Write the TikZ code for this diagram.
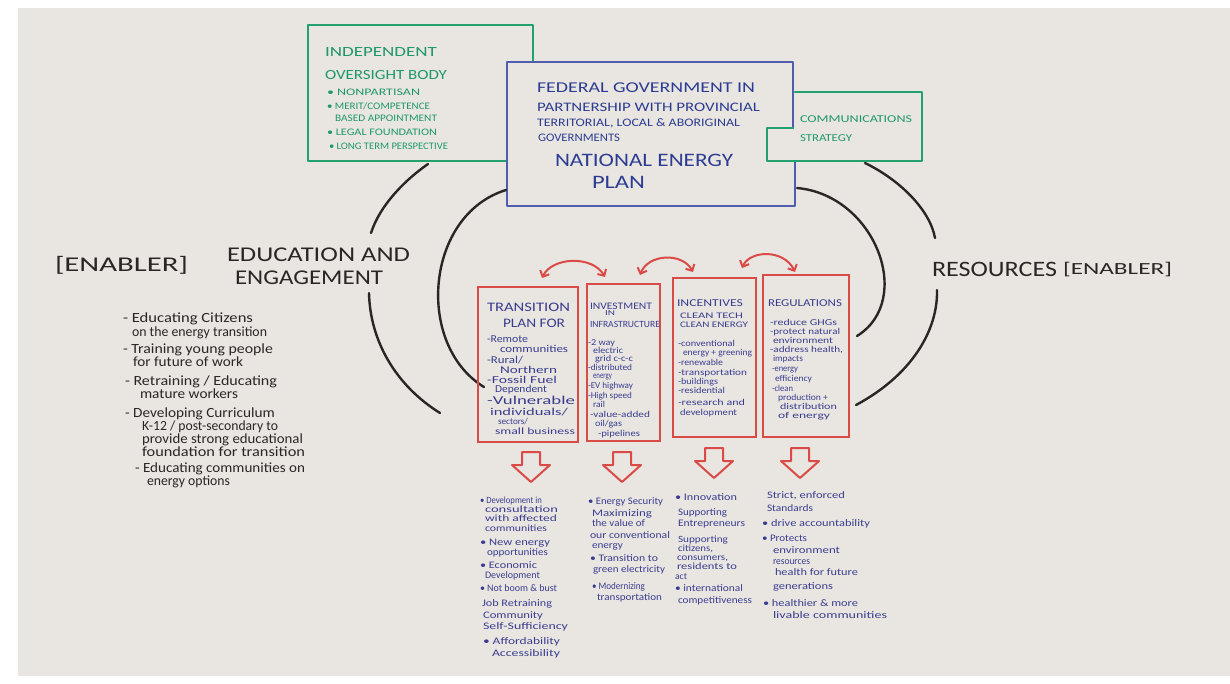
\documentclass[tikz,border=0pt]{standalone}
\usepackage{fontspec}
\setmainfont{Carlito}
\usepackage{graphicx}
\usetikzlibrary{arrows.meta}

\definecolor{board}{HTML}{E9E6E2}
\definecolor{mkgreen}{HTML}{22A06E}
\definecolor{mkgreentext}{HTML}{1E9868}
\definecolor{mkblue}{HTML}{4E5DAE}
\definecolor{mkbluetext}{HTML}{2C3C92}
\definecolor{mkred}{HTML}{DA4B47}
\definecolor{mknavy}{HTML}{3A3D8E}
\definecolor{mkblack}{HTML}{2A2626}

% squeeze or stretch one handwritten line to a given width, height kept
\newsavebox\hwbox
\newlength\hwlen
\newcommand{\hwfit}[2]{%
  \sbox\hwbox{#2}\setlength\hwlen{\wd\hwbox}%
  \pgfmathsetmacro\hwscale{#1/\hwlen}%
  \scalebox{\hwscale}[1]{\usebox\hwbox}}
% a block of lines: style, name prefix, list of x/baseline/width/size/text
\newcommand{\handlines}[3]{%
  \foreach \Lx/\Ly/\Lw/\Ls/\Lt [count=\Ln] in {#3}{%
    \node[#1] (#2\Ln) at (\Lx,\Ly) {\fontsize{\Ls}{\Ls}\selectfont\hwfit{\Lw}{\Lt}};}}

\begin{document}
\begin{tikzpicture}[x=1pt,y=-1pt,
  ln/.style={anchor=base west, inner sep=0pt, outer sep=0pt},
  gtxt/.style={ln, text=mkgreentext},
  btxt/.style={ln, text=mkbluetext},
  ktxt/.style={ln, text=mkblack},
  ntxt/.style={ln, text=mknavy},
  marker/.style={line width=2.2pt, line cap=round, line join=round},
  redbox/.style={draw=mkred, line width=2.3pt, inner sep=0pt, outer sep=0pt},
  swap/.style={marker, draw=mkred, line width=2pt,
    {Straight Barb[length=5pt,width=10pt]}-{Straight Barb[length=5pt,width=10pt]}},
  arc/.style={marker, draw=mkblack, line width=2.4pt},
  downarr/.pic={\draw[marker, draw=mkred, line width=2pt]
    (-9,0) -- (9,0) -- (9,13) -- (19,13) -- (0,30) -- (-19,13) -- (-9,13) -- cycle;}
]
\useasboundingbox (0,0) rectangle (1230,684);
\fill[white] (0,0) rectangle (1230,684);
\fill[board] (18,8) rectangle (1230,676);

% ---------- top: oversight body, national plan, communications ----------
\draw[marker, draw=mkgreen, line width=2.3pt]
  (533,62) -- (533,25) -- (308,25) -- (308,161) -- (507,161);
\draw[marker, draw=mkblue, line width=2.3pt]
  (793,128) -- (793,62) -- (507,62) -- (507,206) -- (795,206) -- (795,161);
\draw[marker, draw=mkgreen, line width=2.3pt]
  (795,92) -- (922,92) -- (922,161) -- (767,161) -- (767,128) -- (793,128);

\handlines{gtxt}{gt}{325/57/112/14/{INDEPENDENT}, 325/80/122/14/{OVERSIGHT BODY}}
\handlines{gtxt}{gb}{327/96/93/10/{• NONPARTISAN},
  327/110/103/10/{• MERIT/COMPETENCE},
  335/122/102/10/{BASED APPOINTMENT},
  327/136/110/10/{• LEGAL FOUNDATION},
  329/150/119/10/{• LONG TERM PERSPECTIVE}}
\handlines{btxt}{fg}{537/93/218/15/{FEDERAL GOVERNMENT IN},
  537/112/223/13/{PARTNERSHIP WITH PROVINCIAL},
  537/127/203/11.5/{TERRITORIAL, LOCAL \& ABORIGINAL},
  538/142/82/11.5/{GOVERNMENTS},
  555/167/178/19/{NATIONAL ENERGY},
  592/189/53/19/{PLAN}}
\handlines{gtxt}{cs}{800/123/112/10.5/{COMMUNICATIONS}, 800/142/52/10.5/{STRATEGY}}

% ---------- enablers ----------
\handlines{ktxt}{le}{55/272/133/21/{[ENABLER]},
  227/262/183/21/{EDUCATION AND},
  235/285/148/21/{ENGAGEMENT}}
\handlines{ktxt}{re}{932/277/125/22/{RESOURCES}, 1063/275/109/17/{[ENABLER]}}

\handlines{ktxt}{ed}{123/323/130/14/{- Educating Citizens},
  132/336/135/14/{on the energy transition},
  123/353/150/14/{- Training young people},
  133/366/110/14/{for future of work},
  125/385/152/14/{- Retraining / Educating},
  140/398/98/14/{mature workers},
  125/417/150/14/{- Developing Curriculum},
  142/430/136/14/{K-12 / post-secondary to},
  142/443/161/14/{provide strong educational},
  142/456/163/14/{foundation for transition},
  135/472/170/14/{- Educating communities on},
  147/485/83/14/{energy options}}

% ---------- black links ----------
\coordinate (ol1) at (428,164); \coordinate (ol2) at (371,233);
\coordinate (ol3) at (369,293); \coordinate (ol4) at (440,413);
\coordinate (il1) at (506,190); \coordinate (il2) at (484,387);
\coordinate (ir1) at (797,188); \coordinate (ir2) at (857,336);
\coordinate (or1) at (865,163); \coordinate (or2) at (935,238);
\coordinate (or3) at (937,290); \coordinate (or4) at (856,405);
\draw[arc] (ol1) .. controls (405,180) and (380,205) .. (ol2);
\draw[arc] (ol3) .. controls (370,340) and (395,385) .. (ol4);
\draw[arc] (il1) .. controls (425,215) and (415,345) .. (il2);
\draw[arc] (ir1) .. controls (875,195) and (915,300) .. (ir2);
\draw[arc] (or1) .. controls (900,180) and (930,210) .. (or2);
\draw[arc] (or3) .. controls (938,330) and (912,375) .. (or4);

% ---------- the four pillars ----------
\node[redbox, minimum width=100, minimum height=155] (p1) at (528,364.5) {};
\node[redbox, minimum width=73, minimum height=157] (p2) at (623.5,362.5) {};
\node[redbox, minimum width=83, minimum height=159] (p3) at (714.5,357.5) {};
\node[redbox, minimum width=86, minimum height=162] (p4) at (806,356) {};

\coordinate (s1a) at (542,278); \coordinate (s1b) at (605,277);
\coordinate (s2a) at (640,275); \coordinate (s2b) at (693,272);
\coordinate (s3a) at (742,268); \coordinate (s3b) at (795,272);
\draw[swap] (s1a) .. controls (552,257) and (592,255) .. (s1b);
\draw[swap] (s2a) .. controls (648,254) and (682,252) .. (s2b);
\draw[swap] (s3a) .. controls (750,250) and (784,249) .. (s3b);

\handlines{ntxt}{t1}{487/312/83/13/{TRANSITION}, 503/327/62/13/{PLAN FOR},
  487/342/41/10.5/{-Remote},
  500/352/68/10.5/{communities},
  487/363/36/10.5/{-Rural/},
  500/373/57/10.5/{Northern},
  487/383/70/10.5/{-Fossil Fuel},
  495/392/52/10.5/{Dependent},
  487/404/88/12/{-Vulnerable},
  490/415/78/10.5/{individuals/},
  498/424/30/9/{sectors/},
  495/434/80/9.5/{small business}}
\handlines{ntxt}{t2}{590/309/62/10/{INVESTMENT}, 605/316/10/7.5/{IN},
  590/327/70/9.5/{INFRASTRUCTURE},
  588/345/27/9/{-2 way},
  593/353/30/9/{electric},
  595/361/38/9/{grid c-c-c},
  588/370/44/9/{-distributed},
  593/378/19/9/{energy},
  588/388/45/9/{-EV highway},
  588/398/44/9/{-High speed},
  593/407/12/9/{rail},
  590/417/60/9/{-value-added},
  595/426/27/9/{oil/gas},
  598/436/42/9/{-pipelines}}
\handlines{ntxt}{t3}{677/306/66/10.5/{INCENTIVES},
  680/318/63/8.5/{CLEAN TECH},
  680/327/68/8.5/{CLEAN ENERGY},
  678/346/57/9/{-conventional},
  683/355/69/9/{energy + greening},
  678/365/45/9/{-renewable},
  678/375/69/9/{-transportation},
  678/384/40/9/{-buildings},
  678/393/47/9/{-residential},
  678/405/67/9/{-research and},
  680/415/57/9/{development}}
\handlines{ntxt}{t4}{768/306/74/10.5/{REGULATIONS},
  770/325/67/9/{-reduce GHGs},
  770/334/70/9/{-protect natural},
  773/343/60/9/{environment},
  770/352/73/9/{-address health,},
  773/361/30/9/{impacts},
  772/371/26/9/{-energy},
  775/381/37/9/{efficiency},
  772/391/21/9/{-clean},
  778/400/50/9/{production +},
  780/409/57/9/{distribution},
  778/418/52/9/{of energy}}

% ---------- outcomes ----------
\pic at (531,452) {downarr};
\pic at (622,452) {downarr};
\pic at (714,448) {downarr};
\pic at (800,448) {downarr};

\handlines{ntxt}{o1}{480/503/62/9.5/{• Development in},
  485/512/73/9.5/{consultation},
  485/521/72/9.5/{with affected},
  485/531/62/9.5/{communities},
  480/545/70/10/{• New energy},
  487/555/61/10/{opportunities},
  480/568/57/10/{• Economic},
  485/578/55/10/{Development},
  480/591/77/10/{• Not boom \& bust},
  482/606/70/10/{Job Retraining},
  483/618/60/10/{Community},
  483/629/85/10/{Self-Sufficiency},
  483/644/77/10/{• Affordability},
  492/656/68/10/{Accessibility}}
\handlines{ntxt}{o2}{588/504/75/10/{• Energy Security},
  592/516/60/10/{Maximizing},
  592/526/53/10/{the value of},
  590/538/80/10/{our conventional},
  592/548/31/10/{energy},
  590/561/68/10/{• Transition to},
  593/572/72/10/{green electricity},
  592/589/53/10/{• Modernizing},
  597/600/65/10/{transportation}}
\handlines{ntxt}{o3}{675/500/62/10/{• Innovation},
  678/515/49/10/{Supporting},
  678/526/67/10/{Entrepreneurs},
  678/542/50/9.5/{Supporting},
  678/551/35/9.5/{citizens,},
  677/560/51/9.5/{consumers,},
  677/569/60/9.5/{residents to},
  675/579/12/9.5/{act},
  675/591/68/10/{• international},
  678/603/74/10/{competitiveness}}
\handlines{ntxt}{o4}{767/498/78/10/{Strict, enforced},
  767/511/46/10/{Standards},
  762/526/108/10/{• drive accountability},
  762/541/45/10/{• Protects},
  773/553/67/10/{environment},
  773/564/37/10/{resources},
  775/575/83/10/{health for future},
  773/589/60/10/{generations},
  763/606/95/10/{• healthier \& more},
  773/618/114/10/{livable communities}}
\end{tikzpicture}
\end{document}
